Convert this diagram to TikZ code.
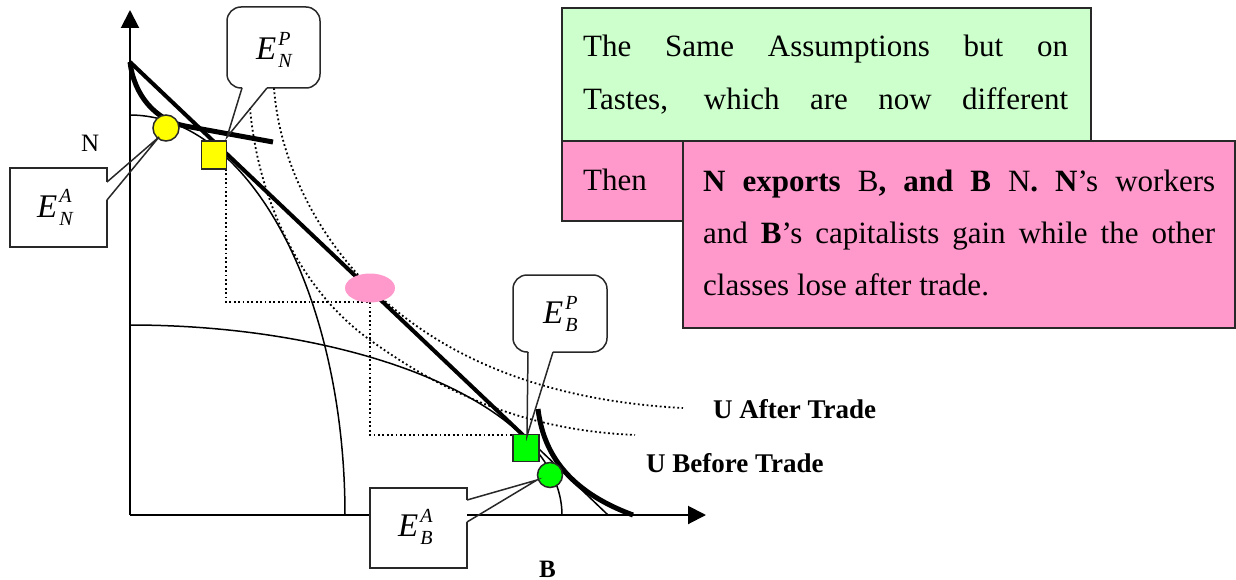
\documentclass[tikz,border=0pt]{standalone}
\usepackage{fontspec}
\setmainfont{Liberation Serif}
\usetikzlibrary{arrows.meta,shapes.geometric}
\definecolor{boxgreen}{RGB}{204,255,204}
\definecolor{boxpink}{RGB}{255,153,204}
\definecolor{mkyellow}{RGB}{255,255,0}
\definecolor{mkgreen}{RGB}{0,255,0}
\definecolor{edgegray}{RGB}{40,40,40}
\newcommand\txtbody{\fontsize{31}{37}\selectfont}
\newcommand\txtlabel{\fontsize{27}{32}\selectfont\bfseries}
\newcommand\txtaxis{\fontsize{25}{30}\selectfont}
\newcommand\txtmath{\fontsize{33}{40}\selectfont}
\newcommand\txtscript{\fontsize{20}{20}\selectfont}
\newcommand\eqlab[2]{\textit{E}\kern2pt\rlap{\raisebox{14pt}{\txtscript\textit{#1}}}\raisebox{-8pt}{\txtscript\textit{#2}}}
\begin{document}
\begin{tikzpicture}[x=1pt,y=-1pt,
  axisline/.style={line width=2pt,-{Triangle[length=18pt,width=18pt]}},
  thincurve/.style={line width=1.5pt},
  thickline/.style={line width=4pt},
  thickcurve/.style={line width=5pt},
  dotcurve/.style={line width=1.8pt,dash pattern=on 1.8pt off 2.6pt},
  calloutline/.style={line width=1.5pt,edgegray},
  textbox/.style={line width=1.5pt,draw=edgegray},
  markerbox/.style={draw=edgegray,line width=1.5pt,inner sep=0pt,outer sep=0pt},
  bodytext/.style={inner sep=0pt,anchor=base west,font=\txtbody},
  labeltext/.style={inner sep=0pt,anchor=base west,font=\txtlabel},
  mathtext/.style={inner sep=0pt,anchor=base west,font=\txtmath}
]
\useasboundingbox (0,0) rectangle (1236,580);

% axes
\coordinate (o) at (130,515);
\coordinate (ytop) at (130,10);
\coordinate (xend) at (706,515);
\draw[axisline] (o) -- (ytop);
\draw[axisline] (o) -- (xend);

% production possibility frontiers
\draw[thincurve] plot[domain=0:90,samples=80,smooth] ({130+215*cos(\x)},{515-400*sin(\x)});
\draw[thincurve] plot[domain=0:90,samples=80,smooth] ({130+432*cos(\x)},{515-190*sin(\x)});

% price line
\coordinate (pl0) at (130,62);
\coordinate (pl1) at (525,437);
\draw[thickline] (pl0) -- (pl1);

% autarky indifference curves
\draw[thickcurve,line cap=butt] (pl0) .. controls (134,95) and (155,120) .. (185,126) -- (273,142);
\draw[thickcurve] (538,409) .. controls (543,450) and (565,490) .. (633,515);
\coordinate (bl0) at (539,449);
\coordinate (bl1) at (608,515);
\draw[thincurve] (bl0) -- (bl1);

% community indifference curves
\draw[dotcurve] (274,88) .. controls (280,170) and (325,245) .. (375,292)
                .. controls (435,349) and (530,400) .. (683,408);
\draw[dotcurve] (250,108) .. controls (258,200) and (300,290) .. (370,340)
                .. controls (440,390) and (520,430) .. (635,435);

% trade triangles
\draw[dotcurve] (226,169) -- (226,302) -- (370,302) -- (370,435) -- (513,435);

% markers
\node[markerbox,fill=mkyellow,circle,minimum size=26pt] (ena) at (166,128) {};
\node[markerbox,fill=mkyellow,rectangle,minimum width=25pt,minimum height=28pt] (enp) at (214,155) {};
\node[ellipse,fill=boxpink,minimum width=50pt,minimum height=29pt,inner sep=0pt] (cons) at (370,288) {};
\node[markerbox,fill=mkgreen,rectangle,minimum width=26pt,minimum height=27pt] (ebp) at (526,448) {};
\node[markerbox,fill=mkgreen,circle,minimum size=25pt] (eba) at (550,475) {};

% callout E_N^P
\fill[white,rounded corners=14pt] (227,7) rectangle (320,88);
\draw[calloutline,rounded corners=14pt] (267,88) -- (320,88) -- (320,7) -- (227,7) -- (227,88) -- (242,88);
\coordinate (tipnp) at (227,137);
\draw[calloutline] (242,88) -- (tipnp) -- (267,88);
\node[mathtext] (lnp) at (256,60) {\eqlab{P}{N}};

% callout E_N^A
\fill[white] (10,168) rectangle (107,247);
\draw[calloutline] (107,182) -- (107,168) -- (10,168) -- (10,247) -- (107,247) -- (107,200);
\coordinate (tipna) at (159,137);
\draw[calloutline] (107,182) -- (tipna) -- (107,200);
\node[mathtext] (lna) at (37,217) {\eqlab{A}{N}};

% callout E_B^P
\fill[white,rounded corners=14pt] (513,275) rectangle (607,352);
\draw[calloutline,rounded corners=14pt] (553,352) -- (607,352) -- (607,275) -- (513,275) -- (513,352) -- (528,352);
\coordinate (tipbp) at (527,436);
\draw[calloutline] (528,352) -- (tipbp) -- (553,352);
\node[mathtext] (lbp) at (543,323) {\eqlab{P}{B}};

% callout E_B^A
\fill[white] (370,488) rectangle (467,568);
\draw[calloutline] (467,500) -- (467,488) -- (370,488) -- (370,568) -- (467,568) -- (467,522);
\coordinate (tipba) at (537,480);
\draw[calloutline] (467,500) -- (tipba) -- (467,522);
\node[mathtext] (lba) at (398,536) {\eqlab{A}{B}};

% axis labels and curve labels
\node[inner sep=0pt,anchor=base west,font=\txtaxis] (lN) at (81,152) {N};
\node[inner sep=0pt,anchor=base west,font=\txtaxis\bfseries] (lB) at (539,577) {B};
\node[labeltext] (ua) at (713,418) {U After Trade};
\node[labeltext] (ub) at (646,472) {U Before Trade};

% text boxes
\draw[textbox,fill=boxgreen] (562,8) rectangle (1091,141);
\draw[textbox,fill=boxpink] (562,141) rectangle (683,221);
\draw[textbox,fill=boxpink] (683,141) rectangle (1235,328);

\node[bodytext] (g1) at (583,57) {\makebox[485pt][s]{The Same Assumptions but on}};
\node[bodytext] (g2) at (583,110) {\makebox[485pt][s]{Tastes, which are now different}};
\node[bodytext] (then) at (583,190) {Then};
\node[bodytext] (p1) at (703,192) {\makebox[512pt][s]{\textbf{N exports} B\textbf{, and B} N\textbf{. N}'s workers}};
\node[bodytext] (p2) at (703,243) {\makebox[512pt][s]{and \textbf{B}'s capitalists gain while the other}};
\node[bodytext] (p3) at (703,295) {classes lose after trade.};
\end{tikzpicture}
\end{document}
